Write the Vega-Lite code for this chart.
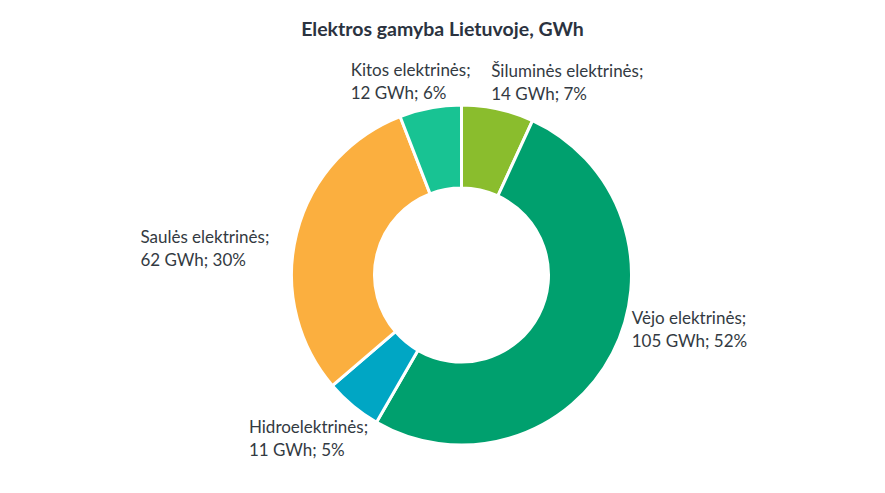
{
  "$schema": "https://vega.github.io/schema/vega-lite/v6.json",
  "width": 847,
  "height": 436,
  "autosize": "none",
  "padding": {"left": 38, "top": 57, "right": 0, "bottom": 0},
  "title": {
    "text": "Elektros gamyba Lietuvoje, GWh",
    "font": "Lato",
    "fontSize": 19.5,
    "fontWeight": "bold",
    "color": "#2b3340",
    "anchor": "middle",
    "dx": -19,
    "offset": 17
  },
  "data": {
    "values": [
      {"ord": 1, "name": "Šiluminės elektrinės", "value": 14, "pct": 7},
      {"ord": 2, "name": "Vėjo elektrinės", "value": 105, "pct": 52},
      {"ord": 3, "name": "Hidroelektrinės", "value": 11, "pct": 5},
      {"ord": 4, "name": "Saulės elektrinės", "value": 62, "pct": 30},
      {"ord": 5, "name": "Kitos elektrinės", "value": 12, "pct": 6}
    ]
  },
  "transform": [
    {"stack": "value", "groupby": [], "sort": [{"field": "ord"}], "as": ["v0", "v1"]},
    {"calculate": "(datum.v0 + datum.v1) / 2", "as": "mid"},
    {"calculate": "[datum.name + ';', datum.value + ' GWh; ' + datum.pct + '%']", "as": "label"}
  ],
  "layer": [
    {
      "mark": {"type": "arc", "outerRadius": 170, "innerRadius": 87, "stroke": "white", "strokeWidth": 3},
      "encoding": {
        "theta": {"field": "v1", "type": "quantitative", "stack": false},
        "theta2": {"field": "v0"},
        "color": {
          "field": "name",
          "type": "nominal",
          "legend": null,
          "scale": {
            "domain": ["Šiluminės elektrinės", "Vėjo elektrinės", "Hidroelektrinės", "Saulės elektrinės", "Kitos elektrinės"],
            "range": ["#8abd2d", "#00a06e", "#00a6c4", "#fbaf3f", "#18c393"]
          }
        }
      }
    },
    {
      "transform": [{"filter": "datum.ord == 1"}],
      "mark": {"type": "text", "radius": 195, "align": "left", "baseline": "middle", "dx": -12, "dy": -13, "font": "Lato", "fontSize": 17, "lineHeight": 23, "color": "#333a42"},
      "encoding": {"theta": {"field": "mid", "type": "quantitative", "stack": false}, "text": {"field": "label"}}
    },
    {
      "transform": [{"filter": "datum.ord == 2"}],
      "mark": {"type": "text", "radius": 195, "align": "left", "baseline": "middle", "dx": -3, "dy": -45.5, "font": "Lato", "fontSize": 17, "lineHeight": 23, "color": "#333a42"},
      "encoding": {"theta": {"field": "mid", "type": "quantitative", "stack": false}, "text": {"field": "label"}}
    },
    {
      "transform": [{"filter": "datum.ord == 3"}],
      "mark": {"type": "text", "radius": 195, "align": "left", "baseline": "middle", "dx": -88, "dy": 3, "font": "Lato", "fontSize": 17, "lineHeight": 23, "color": "#333a42"},
      "encoding": {"theta": {"field": "mid", "type": "quantitative", "stack": false}, "text": {"field": "label"}}
    },
    {
      "transform": [{"filter": "datum.ord == 4"}],
      "mark": {"type": "text", "radius": 195, "align": "left", "baseline": "middle", "dx": -132, "dy": 11, "font": "Lato", "fontSize": 17, "lineHeight": 23, "color": "#333a42"},
      "encoding": {"theta": {"field": "mid", "type": "quantitative", "stack": false}, "text": {"field": "label"}}
    },
    {
      "transform": [{"filter": "datum.ord == 5"}],
      "mark": {"type": "text", "radius": 195, "align": "left", "baseline": "middle", "dx": -75, "dy": -12, "font": "Lato", "fontSize": 17, "lineHeight": 23, "color": "#333a42"},
      "encoding": {"theta": {"field": "mid", "type": "quantitative", "stack": false}, "text": {"field": "label"}}
    }
  ],
  "config": {"view": {"stroke": null}}
}
